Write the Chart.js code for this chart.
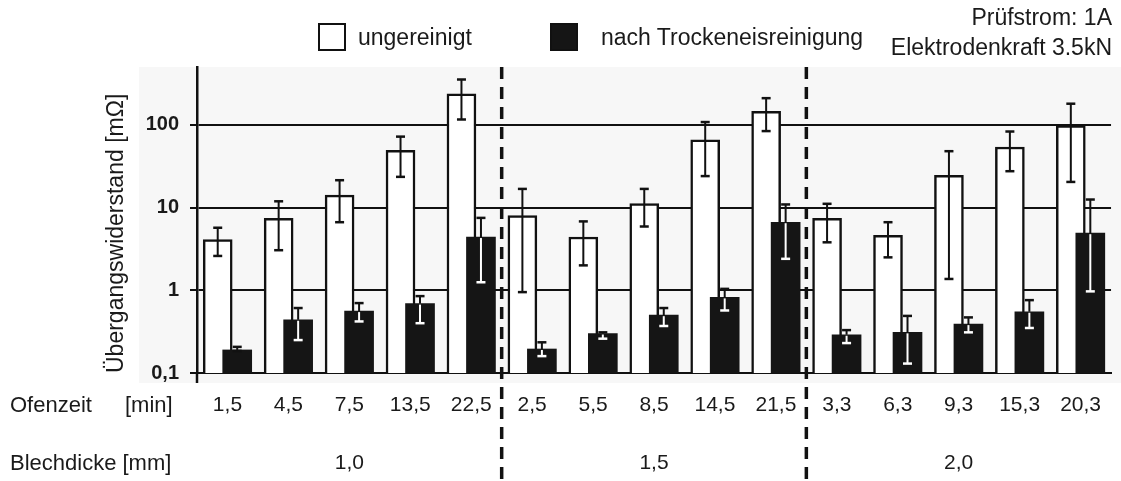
<!DOCTYPE html>
<html>
<head>
<meta charset="utf-8">
<script src="https://cdn.jsdelivr.net/npm/chart.js@4.4.1/dist/chart.umd.min.js"></script>
<style>
  body { margin: 0; background: #fff; font-family: "Liberation Sans", Arial, sans-serif; color: #1a1a1a; }
  #wrap { position: relative; width: 1121px; height: 481px; }
  #chart { position: absolute; left: 0; top: 0; }
  .txt { position: absolute; font-size: 23px; line-height: 26px; white-space: nowrap; }
  .box { position: absolute; width: 24px; height: 24px; border: 2px solid #111; }
</style>
</head>
<body>
<div id="wrap">
  <canvas id="chart" width="1121" height="481"></canvas>
  <div class="box" style="left:318px;top:23px;background:#fff"></div>
  <div class="txt" style="left:358px;top:24px">ungereinigt</div>
  <div class="box" style="left:550px;top:23px;background:#151515"></div>
  <div class="txt" style="left:601px;top:24px">nach Trockeneisreinigung</div>
  <div class="txt" style="right:9px;top:4px;text-align:right">Prüfstrom: 1A</div>
  <div class="txt" style="right:9px;top:34px;text-align:right">Elektrodenkraft 3.5kN</div>
  <div class="txt" style="left:10px;top:392px;font-size:22px">Ofenzeit</div>
  <div class="txt" style="left:125px;top:392px;font-size:22px">[min]</div>
  <div class="txt" style="left:10px;top:450px;font-size:22px">Blechdicke [mm]</div>
</div>
<script>
// Ofenzeit je Probe, gruppiert nach Blechdicke (je 5 Proben)
const ofenzeit = ['1,5', '4,5', '7,5', '13,5', '22,5', '2,5', '5,5', '8,5', '14,5', '21,5', '3,3', '6,3', '9,3', '15,3', '20,3'];
const blechdicke = ['1,0', '1,5', '2,0'];
const yTicks = [0.1, 1, 10, 100];

// Übergangswiderstand in mOhm
const ungereinigt     = [4.1, 7.4, 14.1, 49, 237, 8.0, 4.4, 11.2, 66, 146, 7.4, 4.6, 24.6, 54, 98];
const ungereinigtLow  = [2.6, 3.05, 6.65, 23.5, 116, 0.95, 2.0, 5.9, 24, 84, 3.8, 2.5, 1.37, 27.5, 20.4];
const ungereinigtHigh = [5.7, 11.9, 21.4, 72, 353, 16.8, 6.8, 16.8, 108, 210, 11.1, 6.65, 48, 83, 180];

const gereinigt     = [0.19, 0.44, 0.56, 0.69, 4.4, 0.195, 0.30, 0.50, 0.82, 6.65, 0.29, 0.31, 0.39, 0.55, 4.9];
const gereinigtLow  = [0.185, 0.25, 0.42, 0.40, 1.25, 0.16, 0.26, 0.37, 0.57, 2.4, 0.23, 0.13, 0.31, 0.35, 0.97];
const gereinigtHigh = [0.207, 0.61, 0.70, 0.85, 7.5, 0.235, 0.31, 0.61, 1.04, 10.9, 0.33, 0.49, 0.47, 0.76, 12.5];

const FONT = '"Liberation Sans", Arial, sans-serif';
const INK = '#111';
const barShift = 0.16;
const perGroup = ofenzeit.length / blechdicke.length;

function drawErrors(chart, dsIndex, lows, highs, dark) {
  const meta = chart.getDatasetMeta(dsIndex);
  const y = chart.scales.y;
  const ctx = chart.ctx;
  const cap = 4.5;
  meta.data.forEach((bar, i) => {
    const x = bar.x;
    const top = bar.y;
    const yLo = y.getPixelForValue(lows[i]);
    const yHi = y.getPixelForValue(highs[i]);
    ctx.lineWidth = 2;
    if (!dark) {
      ctx.strokeStyle = INK;
      ctx.beginPath(); ctx.moveTo(x, yHi); ctx.lineTo(x, yLo); ctx.stroke();
    } else {
      ctx.strokeStyle = INK;
      ctx.beginPath(); ctx.moveTo(x, yHi); ctx.lineTo(x, Math.min(top, yLo)); ctx.stroke();
      if (yLo > top) {
        ctx.strokeStyle = '#fff';
        ctx.beginPath(); ctx.moveTo(x, top + 1); ctx.lineTo(x, yLo); ctx.stroke();
      }
    }
    ctx.lineWidth = 2.5;
    [yHi, yLo].forEach(py => {
      ctx.strokeStyle = (dark && py > top + 1) ? '#fff' : INK;
      ctx.beginPath(); ctx.moveTo(x - cap, py); ctx.lineTo(x + cap, py); ctx.stroke();
    });
  });
}

const extras = {
  id: 'extras',
  beforeDraw(chart) {
    const ctx = chart.ctx;
    const a = chart.chartArea;
    ctx.save();
    ctx.fillStyle = '#f7f7f7';
    ctx.fillRect(139, a.top, chart.width - 139, a.bottom - a.top + 10);
    ctx.restore();
  },
  afterDatasetsDraw(chart) {
    const ctx = chart.ctx;
    ctx.save();
    drawErrors(chart, 0, ungereinigtLow, ungereinigtHigh, false);
    drawErrors(chart, 1, gereinigtLow, gereinigtHigh, true);
    ctx.restore();
  },
  afterDraw(chart) {
    const ctx = chart.ctx;
    const x = chart.scales.x;
    const a = chart.chartArea;
    ctx.save();
    // y-Achse etwas unter die Nulllinie verlängern
    ctx.strokeStyle = INK;
    ctx.lineWidth = 2.5;
    ctx.beginPath();
    ctx.moveTo(a.left, a.bottom);
    ctx.lineTo(a.left, a.bottom + 10);
    ctx.stroke();
    // Trennlinien zwischen den Blechdicken
    ctx.lineWidth = 3.5;
    ctx.setLineDash([12, 8]);
    for (let g = 1; g < blechdicke.length; g++) {
      const px = x.getPixelForValue(g * perGroup - 0.5);
      ctx.beginPath();
      ctx.moveTo(px, a.top);
      ctx.lineTo(px, chart.height);
      ctx.stroke();
    }
    ctx.setLineDash([]);
    // Blechdicke-Beschriftung
    ctx.fillStyle = '#1a1a1a';
    ctx.font = '21px ' + FONT;
    ctx.textAlign = 'center';
    ctx.textBaseline = 'middle';
    blechdicke.forEach((b, g) => {
      ctx.fillText(b, x.getPixelForValue(g * perGroup + (perGroup - 1) / 2), 463);
    });
    ctx.restore();
  }
};

new Chart(document.getElementById('chart'), {
  type: 'bar',
  data: {
    datasets: [
      {
        label: 'ungereinigt',
        data: ungereinigt.map((v, i) => ({ x: i - barShift, y: v })),
        backgroundColor: '#fff',
        borderColor: INK,
        borderWidth: 2.5,
        grouped: false,
        barThickness: 29,
        order: 2
      },
      {
        label: 'nach Trockeneisreinigung',
        data: gereinigt.map((v, i) => ({ x: i + barShift, y: v })),
        backgroundColor: '#151515',
        borderWidth: 0,
        grouped: false,
        barThickness: 29,
        order: 1
      }
    ]
  },
  options: {
    responsive: false,
    animation: false,
    layout: { padding: { top: 67, left: 0, right: 0, bottom: 0 } },
    plugins: { legend: { display: false }, tooltip: { enabled: false } },
    scales: {
      x: {
        type: 'linear',
        min: -0.5,
        max: 14.5,
        offset: false,
        afterBuildTicks: s => { s.ticks = ofenzeit.map((_, i) => ({ value: i })); },
        afterFit: s => { s.height = 108; },
        grid: { display: false, drawTicks: false, offset: false },
        border: { color: INK, width: 2 },
        ticks: {
          callback: v => ofenzeit[v],
          autoSkip: false,
          maxRotation: 0,
          padding: 20,
          color: '#1a1a1a',
          font: { family: FONT, size: 21 }
        }
      },
      y: {
        type: 'logarithmic',
        min: 0.1,
        max: 500,
        afterBuildTicks: s => { s.ticks = yTicks.map(v => ({ value: v })); },
        afterFit: s => { s.width = 197; },
        grid: { color: INK, lineWidth: 2, tickLength: 7, drawTicks: true, tickColor: INK },
        border: { color: INK, width: 2.5 },
        ticks: {
          callback: v => String(v).replace('.', ','),
          padding: 11,
          color: '#1a1a1a',
          font: { family: FONT, size: 20, weight: 'bold' }
        },
        title: {
          display: true,
          text: 'Übergangswiderstand [mΩ]',
          align: 'start',
          color: '#1a1a1a',
          padding: { top: 103, bottom: 0 },
          font: { family: FONT, size: 23 }
        }
      }
    }
  },
  plugins: [extras]
});
</script>
</body>
</html>
